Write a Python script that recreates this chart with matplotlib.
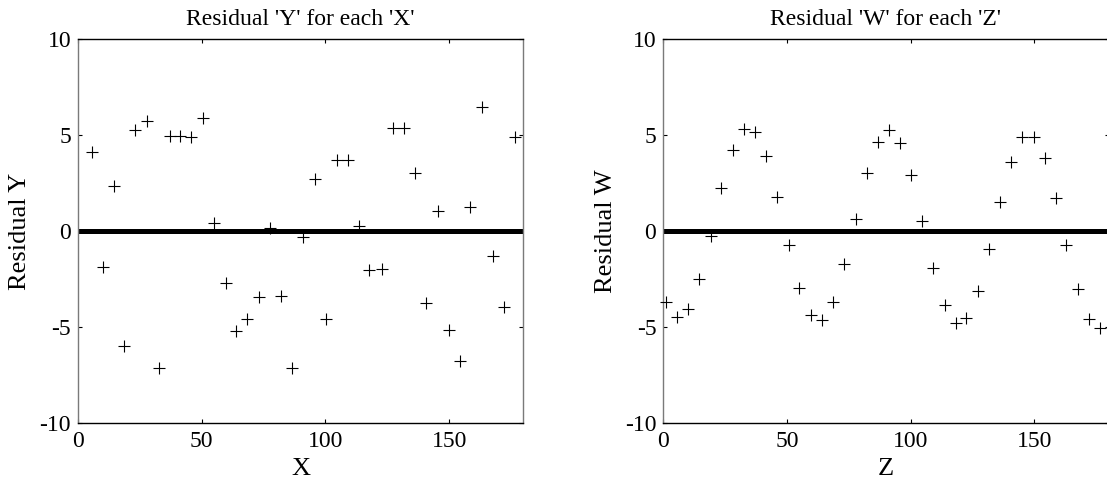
import numpy as np
import matplotlib
matplotlib.use('Agg')
import matplotlib.pyplot as plt

plt.rcParams['font.family'] = ['Liberation Serif', 'DejaVu Serif']
plt.rcParams['axes.unicode_minus'] = False

# Residuals of Y against X
xVals = [5.8, 10.0, 14.4, 18.7, 23.2, 27.9, 32.8, 37.0, 41.4, 45.7,
         50.6, 54.9, 59.6, 64.0, 68.4, 73.2, 77.7, 82.1, 86.6, 90.8,
         95.8, 100.1, 104.6, 109.2, 113.6, 117.7, 122.9, 127.3, 131.6, 136.0,
         140.8, 145.3, 149.8, 154.3, 158.6, 163.3, 167.7, 172.2, 176.5]
residY = [4.14, -1.86, 2.35, -5.98, 5.27, 5.75, -7.16, 4.96, 4.96, 4.90,
          5.91, 0.43, -2.73, -5.22, -4.61, -3.43, 0.16, -3.39, -7.13, -0.31,
          2.70, -4.61, 3.70, 3.70, 0.28, -2.03, -1.98, 5.39, 5.39, 3.00,
          -3.74, 1.06, -5.16, -6.78, 1.27, 6.45, -1.30, -3.98, 4.92]

# Residuals of W against Z
zVals = [1.1, 5.5, 10.0, 14.6, 19.1, 23.4, 28.0, 32.6, 37.2, 41.5,
         46.1, 50.6, 55.0, 59.7, 64.3, 68.7, 73.2, 77.8, 82.2, 86.7,
         91.1, 95.6, 100.0, 104.6, 109.2, 113.7, 118.2, 122.5, 127.2, 131.6,
         135.9, 140.5, 145.0, 149.7, 154.1, 158.6, 162.9, 167.5, 171.9, 176.5]
residW = [-3.69, -4.50, -4.07, -2.52, -0.24, 2.23, 4.23, 5.30, 5.18, 3.93,
          1.79, -0.72, -2.96, -4.38, -4.64, -3.69, -1.74, 0.64, 3.01, 4.66,
          5.27, 4.57, 2.92, 0.54, -1.95, -3.86, -4.82, -4.56, -3.13, -0.94,
          1.53, 3.62, 4.89, 4.92, 3.79, 1.74, -0.73, -3.04, -4.61, -5.04]

xTicks = [0, 50, 100, 150]
yTicks = [-10, -5, 0, 5, 10]


def residualPanel(ax, xs, ys, xname, yname):
    ax.axhline(0, color='black', linewidth=3.6, zorder=1)
    ax.plot(xs, ys, linestyle='none', marker='+', color='black',
            markersize=8, markeredgewidth=0.8, clip_on=False, zorder=3)

    ax.set_xlim(0, 180)
    ax.set_ylim(-10, 10)
    ax.set_xticks(xTicks)
    ax.set_yticks(yTicks)
    ax.tick_params(direction='in', length=3, width=0.8, labelsize=17,
                   top=True, right=True)
    ax.tick_params(axis='x', pad=6)
    ax.tick_params(axis='y', pad=5)

    # box like the old matlab figures: side edges a bit lighter
    for side in ['top', 'bottom']:
        ax.spines[side].set_color('black')
        ax.spines[side].set_linewidth(1.0)
    for side in ['left', 'right']:
        ax.spines[side].set_color('#7a7a7a')
        ax.spines[side].set_linewidth(1.0)

    ax.set_title("Residual '%s' for each '%s'" % (yname, xname), fontsize=17, pad=10)
    ax.set_xlabel(xname, fontsize=19, labelpad=4)
    ax.set_ylabel('Residual ' + yname, fontsize=19, labelpad=6)


def main():
    fig = plt.figure(figsize=(11.07, 4.87), dpi=100)
    axLeft = fig.add_axes([0.0705, 0.132, 0.4023, 0.7873])
    axRight = fig.add_axes([0.5992, 0.132, 0.4023, 0.7873])

    residualPanel(axLeft, xVals, residY, 'X', 'Y')
    residualPanel(axRight, zVals, residW, 'Z', 'W')

    fig.savefig('out.png', dpi=100)

main()
